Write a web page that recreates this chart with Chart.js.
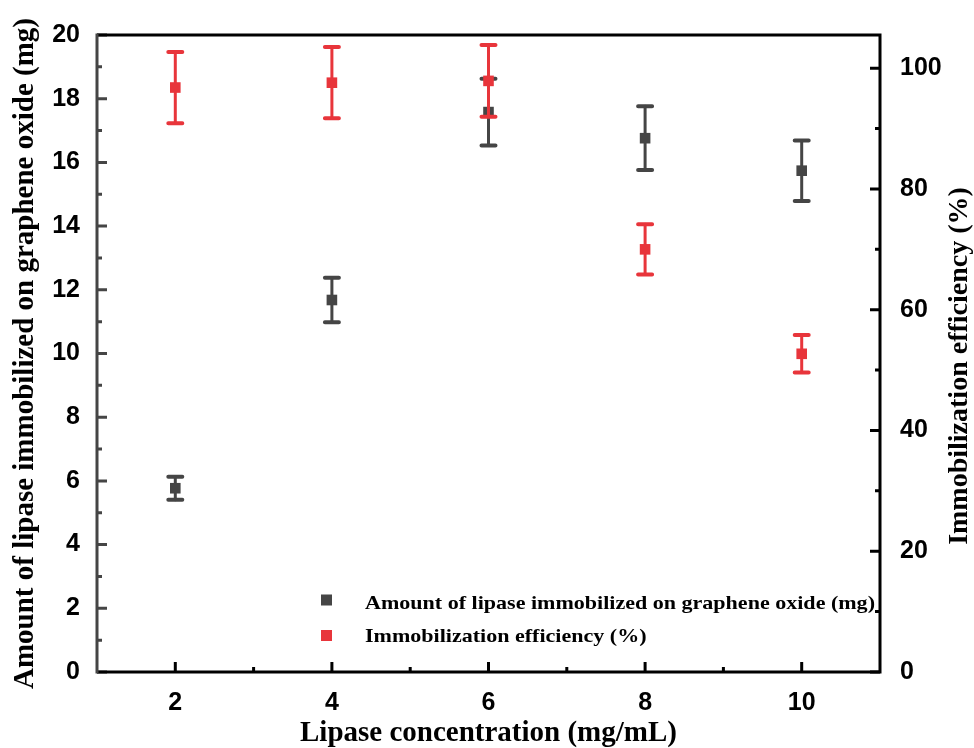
<!DOCTYPE html>
<html>
<head>
<meta charset="utf-8">
<script src="https://cdn.jsdelivr.net/npm/chart.js@4"></script>
<style>
  html, body { margin: 0; padding: 0; background: #fff; }
  canvas { display: block; }
</style>
</head>
<body>
<canvas id="chart" width="974" height="748"></canvas>
<script>
// values
const concentrations = [2, 4, 6, 8, 10];
const amount = [5.77, 11.68, 17.58, 16.76, 15.74];
const amountErr = [0.36, 0.7, 1.05, 1.0, 0.95];
const efficiency = [96.8, 97.6, 97.9, 70.0, 52.7];
const efficiencyErr = [5.9, 5.9, 5.95, 4.15, 3.1];

const leftTicks = [0, 2, 4, 6, 8, 10, 12, 14, 16, 18, 20];
const rightTicks = [0, 20, 40, 60, 80, 100];

const amountLabel = 'Amount of lipase immobilized on graphene oxide (mg)';
const efficiencyLabel = 'Immobilization efficiency (%)';

const black = '#454545';
const red = '#e8353b';

const tickFont = { family: 'Liberation Sans', weight: 'bold', size: 25 };
const titleFont = { family: 'Liberation Serif', weight: 'bold', size: 29 };

const errorBars = {
  id: 'errorBars',
  beforeDatasetDraw(chart, args) {
    const ds = chart.data.datasets[args.index];
    const ctx = chart.ctx;
    const xs = chart.scales.x;
    const ys = chart.scales[ds.yAxisID];
    ctx.save();
    ctx.strokeStyle = ds.backgroundColor;
    ctx.lineCap = 'round';
    ds.data.forEach((p, i) => {
      const x = xs.getPixelForValue(p.x);
      const top = ys.getPixelForValue(p.y + ds.err[i]);
      const bot = ys.getPixelForValue(p.y - ds.err[i]);
      ctx.lineWidth = 3;
      ctx.beginPath();
      ctx.moveTo(x, top);
      ctx.lineTo(x, bot);
      ctx.stroke();
      ctx.lineWidth = 4;
      ctx.beginPath();
      ctx.moveTo(x - 7, top);
      ctx.lineTo(x + 7, top);
      ctx.moveTo(x - 7, bot);
      ctx.lineTo(x + 7, bot);
      ctx.stroke();
    });
    ctx.restore();
  }
};

const frame = {
  id: 'frame',
  afterDraw(chart) {
    const ctx = chart.ctx;
    const a = chart.chartArea;
    const xs = chart.scales.x, yl = chart.scales.y, yr = chart.scales.y2;
    ctx.save();

    // ticks (inward)
    ctx.lineWidth = 3;
    ctx.strokeStyle = black;
    ctx.beginPath();
    for (let v = 0; v <= 20; v += 1) {
      const y = yl.getPixelForValue(v);
      ctx.moveTo(a.left, y);
      ctx.lineTo(a.left + (v % 2 === 0 ? 10 : 5), y);
    }
    ctx.stroke();

    ctx.strokeStyle = '#000';
    ctx.beginPath();
    for (let v = 0; v <= 100; v += 10) {
      const y = yr.getPixelForValue(v);
      ctx.moveTo(a.right, y);
      ctx.lineTo(a.right - (v % 20 === 0 ? 10 : 5), y);
    }
    for (let v = 2; v <= 10; v += 1) {
      const x = xs.getPixelForValue(v);
      ctx.moveTo(x, a.bottom);
      ctx.lineTo(x, a.bottom - (v % 2 === 0 ? 10 : 5));
    }
    ctx.stroke();

    // frame
    ctx.lineWidth = 3;
    ctx.strokeStyle = '#000';
    ctx.beginPath();
    ctx.moveTo(a.left, a.top);
    ctx.lineTo(a.right, a.top);
    ctx.lineTo(a.right, a.bottom);
    ctx.lineTo(a.left, a.bottom);
    ctx.stroke();
    ctx.strokeStyle = black;
    ctx.beginPath();
    ctx.moveTo(a.left, a.top - 1.5);
    ctx.lineTo(a.left, a.bottom + 1.5);
    ctx.stroke();

    // right axis title, reads bottom to top like the left one
    ctx.fillStyle = '#000';
    ctx.font = 'bold 28px "Liberation Serif"';
    ctx.textAlign = 'center';
    ctx.textBaseline = 'middle';
    ctx.translate(960, 366);
    ctx.rotate(-Math.PI / 2);
    ctx.fillText(efficiencyLabel, 0, 0);
    ctx.setTransform(1, 0, 0, 1, 0, 0);

    // legend inside plot (text is wide in the original)
    ctx.font = 'bold 19px "Liberation Serif"';
    ctx.textAlign = 'left';
    ctx.textBaseline = 'alphabetic';
    const items = [[amountLabel, black, 600, 609], [efficiencyLabel, red, 635.5, 642]];
    items.forEach(([t, c, sy, by]) => {
      ctx.fillStyle = c;
      ctx.fillRect(321, sy - 5.5, 11, 11);
      ctx.fillStyle = '#000';
      ctx.save();
      ctx.translate(365, by);
      ctx.scale(1.16, 1);
      ctx.fillText(t, 0, 0);
      ctx.restore();
    });
    ctx.restore();
  }
};

new Chart(document.getElementById('chart'), {
  type: 'scatter',
  data: {
    datasets: [
      {
        label: amountLabel,
        data: concentrations.map((c, i) => ({ x: c, y: amount[i] })),
        err: amountErr,
        yAxisID: 'y',
        backgroundColor: black,
        borderColor: black,
        pointStyle: 'rect',
        pointRadius: 7.5,
        pointBorderWidth: 0,
        order: 2,
      },
      {
        label: efficiencyLabel,
        data: concentrations.map((c, i) => ({ x: c, y: efficiency[i] })),
        err: efficiencyErr,
        yAxisID: 'y2',
        backgroundColor: red,
        borderColor: red,
        pointStyle: 'rect',
        pointRadius: 7.5,
        pointBorderWidth: 0,
        order: 1,
      },
    ],
  },
  options: {
    responsive: false,
    animation: false,
    layout: { padding: { top: 35, left: 0, right: 0, bottom: 0 } },
    plugins: {
      legend: { display: false },
      tooltip: { enabled: false },
    },
    scales: {
      x: {
        type: 'linear',
        min: 1,
        max: 11,
        afterBuildTicks: (s) => { s.ticks = concentrations.map(v => ({ value: v })); },
        afterFit: (s) => { s.height = 76; },
        grid: { display: false, drawTicks: false },
        border: { display: false },
        ticks: { color: '#000', font: tickFont, padding: 16 },
        title: {
          display: true,
          text: 'Lipase concentration (mg/mL)',
          color: '#000',
          font: titleFont,
          padding: { top: 0, bottom: -3 },
        },
      },
      y: {
        position: 'left',
        min: 0,
        max: 20,
        afterBuildTicks: (s) => { s.ticks = leftTicks.map(v => ({ value: v })); },
        afterFit: (s) => { s.width = 97; },
        grid: { display: false, drawTicks: false },
        border: { display: false },
        ticks: { color: '#000', font: tickFont, padding: 17 },
        title: {
          display: true,
          text: amountLabel,
          color: '#000',
          font: titleFont,
          padding: { top: 8, bottom: 0 },
        },
      },
      y2: {
        position: 'right',
        min: 0,
        max: 105.5,
        afterBuildTicks: (s) => { s.ticks = rightTicks.map(v => ({ value: v })); },
        afterFit: (s) => { s.width = 94; },
        grid: { display: false, drawTicks: false },
        border: { display: false },
        ticks: { color: '#000', font: tickFont, padding: 20 },
      },
    },
  },
  plugins: [errorBars, frame],
});
</script>
</body>
</html>
